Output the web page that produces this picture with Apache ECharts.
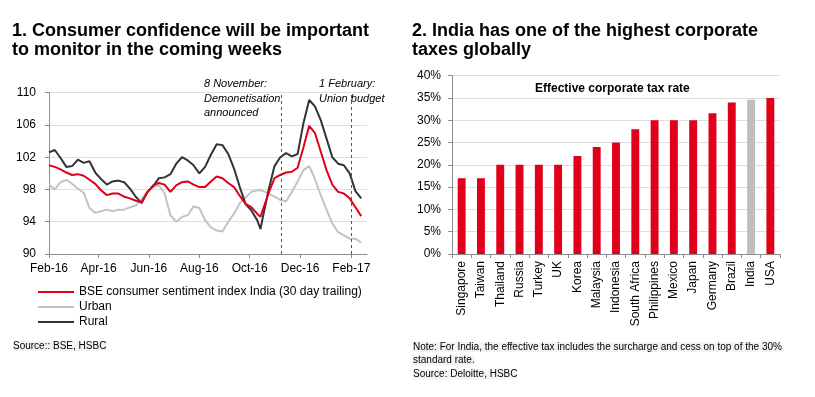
<!DOCTYPE html>
<html>
<head>
<meta charset="utf-8">
<script src="https://cdn.jsdelivr.net/npm/echarts@6/dist/echarts.min.js"></script>
<style>
  html, body { margin: 0; padding: 0; background: #fff; }
  #chart { width: 815px; height: 397px; }
</style>
</head>
<body>
<div id="chart"></div>
<script>
// 左图：BSE 消费者信心（周度读数）
const dates = [
  '2016-02-01', '2016-02-08', '2016-02-15', '2016-02-22', '2016-02-29', '2016-03-07', '2016-03-14',
  '2016-03-21', '2016-03-28', '2016-04-04', '2016-04-11', '2016-04-18', '2016-04-25', '2016-05-02',
  '2016-05-09', '2016-05-16', '2016-05-23', '2016-05-30', '2016-06-06', '2016-06-13', '2016-06-20',
  '2016-06-27', '2016-07-04', '2016-07-11', '2016-07-18', '2016-07-25', '2016-08-01', '2016-08-08',
  '2016-08-15', '2016-08-22', '2016-08-29', '2016-09-05', '2016-09-12', '2016-09-19', '2016-09-26',
  '2016-10-03', '2016-10-10', '2016-10-14', '2016-10-17', '2016-10-24', '2016-10-31', '2016-11-07',
  '2016-11-14', '2016-11-21', '2016-11-28', '2016-12-05', '2016-12-12', '2016-12-19', '2016-12-26',
  '2017-01-02', '2017-01-09', '2017-01-16', '2017-01-23', '2017-01-30', '2017-02-06', '2017-02-13'
]
const bseIndex = [
  101.0, 100.8, 100.5, 100.1, 99.8, 99.9, 99.7, 99.2, 98.7, 97.9, 97.3, 97.5, 97.5, 97.1,
  96.9, 96.6, 96.4, 97.6, 98.5, 98.8, 98.6, 97.7, 98.5, 98.9, 99.0, 98.6, 98.3, 98.3,
  99.0, 99.6, 99.4, 98.8, 98.3, 97.2, 96.2, 95.8, 95.0, 94.6, 95.5, 97.6, 99.4, 99.8,
  100.1, 100.2, 100.7, 103.2, 105.9, 105.0, 102.7, 100.4, 98.6, 97.7, 97.5, 96.9, 95.8, 94.7
]
const urban = [
  98.6, 98.0, 98.9, 99.2, 98.7, 98.1, 97.6, 95.7, 95.1, 95.3, 95.5, 95.3, 95.5, 95.5,
  95.8, 96.0, 96.8, 97.7, 98.3, 98.5, 97.5, 94.8, 94.0, 94.6, 94.8, 95.9, 95.7, 94.2,
  93.3, 92.9, 92.8, 94.0, 95.0, 96.3, 97.0, 97.7, 97.9, 97.9, 97.8, 97.5, 97.1, 96.7,
  96.5, 97.7, 99.0, 100.4, 100.9, 99.3, 97.3, 95.5, 93.8, 92.7, 92.3, 91.9, 91.9, 91.4
]
const rural = [
  102.6, 102.9, 101.9, 100.8, 100.9, 101.7, 101.3, 101.5, 100.1, 99.3, 98.6, 99.0, 99.1, 98.9,
  98.1, 97.1, 96.3, 97.7, 98.4, 99.4, 99.5, 99.9, 101.2, 102.0, 101.6, 101.0, 100.0, 100.8,
  102.3, 103.6, 103.5, 102.4, 100.6, 98.3, 96.2, 95.4, 94.2, 93.1, 94.6, 98.0, 100.9, 102.0,
  102.5, 102.1, 102.4, 106.2, 109.1, 108.3, 106.6, 104.3, 102.0, 101.2, 101.0, 100.0, 97.8, 96.9
]
const monthTicks = ['2016-02-01', '2016-04-01', '2016-06-01', '2016-08-01', '2016-10-01', '2016-12-01', '2017-02-01']
const monthLabels = ['Feb-16', 'Apr-16', 'Jun-16', 'Aug-16', 'Oct-16', 'Dec-16', 'Feb-17']
const eventDates = ['2016-11-08', '2017-02-01']
const axisStart = '2016-02-01'
const axisEnd = '2017-02-20'

// 右图：企业有效税率
const countries = [
  'Singapore', 'Taiwan', 'Thailand', 'Russia', 'Turkey', 'UK', 'Korea', 'Malaysia', 'Indonesia',
  'South Africa', 'Philippines', 'Mexico', 'Japan', 'Germany', 'Brazil', 'India', 'USA'
]
const taxRates = [17, 17, 20, 20, 20, 20, 22, 24, 25, 28, 30, 30, 30, 31.6, 34, 34.6, 35]

const FONT = "'Liberation Sans', Arial, sans-serif"
const RED = '#e1001a'
const AXIS = '#8c8c8c'
const GRID = '#dedede'

// 日期 -> 距起始日的天数
const dayOf = (s) => {
  const [y, m, d] = s.split('-').map(Number)
  return Math.round((Date.UTC(y, m - 1, d) - Date.UTC(2016, 1, 1)) / 86400000)
}
const tickDays = monthTicks.map(dayOf)
const labelOf = {}
tickDays.forEach((t, i) => { labelOf[t] = monthLabels[i] })

const pair = (arr) => dates.map((d, i) => [dayOf(d), arr[i]])

const chart = echarts.init(document.getElementById('chart'))

const option = {
  backgroundColor: '#fff',
  animation: false,
  textStyle: { fontFamily: FONT },
  grid: [
    { left: 49, top: 92.7, right: 448, bottom: 143 },
    { left: 452, top: 75.7, right: 35, bottom: 143 }
  ],
  legend: {
    orient: 'vertical',
    left: 38,
    top: 286,
    padding: 0,
    itemGap: 3,
    icon: 'rect',
    itemWidth: 36,
    itemHeight: 2,
    textStyle: { fontSize: 12, color: '#000', fontFamily: FONT },
    data: ['BSE consumer sentiment index India (30 day trailing)', 'Urban', 'Rural']
  },
  xAxis: [
    {
      type: 'value',
      gridIndex: 0,
      min: dayOf(axisStart),
      max: dayOf(axisEnd),
      axisLine: { onZero: false, lineStyle: { color: AXIS } },
      axisTick: { show: true, length: 4, lineStyle: { color: AXIS }, customValues: tickDays },
      axisLabel: {
        fontSize: 12,
        color: '#000',
        margin: 9,
        customValues: tickDays,
        formatter: (v) => labelOf[Math.round(v)] || ''
      },
      splitLine: { show: false }
    },
    {
      type: 'category',
      gridIndex: 1,
      data: countries,
      axisLine: { lineStyle: { color: AXIS } },
      axisTick: { show: true, length: 4, lineStyle: { color: AXIS } },
      axisLabel: { interval: 0, rotate: 90, fontSize: 12, color: '#000', margin: 7 }
    }
  ],
  yAxis: [
    {
      type: 'value',
      gridIndex: 0,
      min: 90,
      max: 110,
      interval: 4,
      axisLine: { show: true, lineStyle: { color: AXIS } },
      axisTick: { show: true, length: 4, lineStyle: { color: AXIS } },
      axisLabel: { fontSize: 12, color: '#000', margin: 13 },
      splitLine: { lineStyle: { color: GRID } }
    },
    {
      type: 'value',
      gridIndex: 1,
      min: 0,
      max: 40,
      interval: 5,
      axisLine: { show: true, lineStyle: { color: AXIS } },
      axisTick: { show: true, length: 4, lineStyle: { color: AXIS } },
      axisLabel: { fontSize: 12, color: '#000', margin: 11, formatter: '{value}%' },
      splitLine: { lineStyle: { color: GRID } }
    }
  ],
  series: [
    {
      name: 'Urban',
      type: 'line',
      xAxisIndex: 0,
      yAxisIndex: 0,
      data: pair(urban),
      showSymbol: false,
      lineStyle: { color: '#c3c3c3', width: 2 },
      itemStyle: { color: '#c3c3c3' }
    },
    {
      name: 'Rural',
      type: 'line',
      xAxisIndex: 0,
      yAxisIndex: 0,
      data: pair(rural),
      showSymbol: false,
      lineStyle: { color: '#333333', width: 2 },
      itemStyle: { color: '#333333' }
    },
    {
      name: 'BSE consumer sentiment index India (30 day trailing)',
      type: 'line',
      xAxisIndex: 0,
      yAxisIndex: 0,
      data: pair(bseIndex),
      showSymbol: false,
      lineStyle: { color: RED, width: 2 },
      itemStyle: { color: RED },
      markLine: {
        silent: true,
        symbol: ['none', 'none'],
        label: { show: false },
        lineStyle: { type: [3, 3], color: '#555', width: 1 },
        data: eventDates.map((d) => ({ xAxis: dayOf(d) }))
      }
    },
    {
      type: 'bar',
      xAxisIndex: 1,
      yAxisIndex: 1,
      barWidth: '41%',
      data: taxRates.map((v, i) => ({
        value: v,
        itemStyle: { color: countries[i] === 'India' ? '#bfbfbf' : RED }
      }))
    }
  ],
  graphic: [
    {
      type: 'text', left: 12, top: 22,
      style: {
        text: '1. Consumer confidence will be important\nto monitor in the coming weeks',
        font: 'bold 18px ' + FONT, lineHeight: 19, fill: '#000'
      }
    },
    {
      type: 'text', left: 412, top: 22,
      style: {
        text: '2. India has one of the highest corporate\ntaxes globally',
        font: 'bold 18px ' + FONT, lineHeight: 19, fill: '#000'
      }
    },
    {
      type: 'text', left: 204, top: 77,
      style: {
        text: '8 November:\nDemonetisation\nannounced',
        font: 'italic 11px ' + FONT, lineHeight: 14.5, fill: '#000'
      }
    },
    {
      type: 'text', left: 319, top: 77,
      style: {
        text: '1 February:\nUnion budget',
        font: 'italic 11px ' + FONT, lineHeight: 14.5, fill: '#000'
      }
    },
    {
      type: 'text', left: 535, top: 83,
      style: {
        text: 'Effective corporate tax rate',
        font: 'bold 12px ' + FONT, fill: '#000'
      }
    },
    {
      type: 'text', left: 13, top: 341,
      style: {
        text: 'Source:: BSE, HSBC',
        font: '10px ' + FONT, fill: '#000', backgroundColor: '#f3f3f3'
      }
    },
    {
      type: 'text', left: 413, top: 342,
      style: {
        text: 'Note: For India, the effective tax includes the surcharge and cess on top of the 30%',
        font: '10px ' + FONT, fill: '#000', backgroundColor: '#f3f3f3'
      }
    },
    {
      type: 'text', left: 413, top: 355.5,
      style: {
        text: 'standard rate.',
        font: '10px ' + FONT, fill: '#000', backgroundColor: '#f3f3f3'
      }
    },
    {
      type: 'text', left: 413, top: 369.5,
      style: {
        text: 'Source: Deloitte, HSBC',
        font: '10px ' + FONT, fill: '#000', backgroundColor: '#f3f3f3'
      }
    }
  ]
}

chart.setOption(option)
</script>
</body>
</html>
